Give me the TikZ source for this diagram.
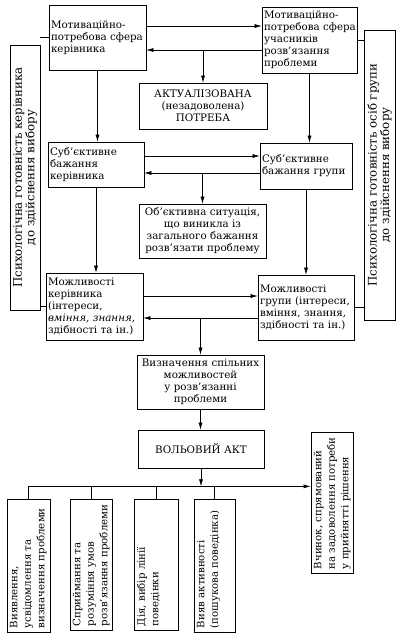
\documentclass[tikz,border=0pt]{standalone}
\usepackage{fontspec}
\setmainfont{DejaVu Serif}
\usetikzlibrary{arrows.meta}
\newcommand{\dfont}{\fontsize{10.3}{12}\selectfont}
\newcommand{\vfont}{\fontsize{10.2}{13.5}\selectfont}
\newcommand{\bfontx}{\fontsize{11.8}{12.5}\selectfont}
\begin{document}
\begin{tikzpicture}[x=1pt,y=-1pt,
  box/.style={draw, line width=0.7pt, inner xsep=2pt, inner ysep=2pt, font=\dfont},
  lbox/.style={box, align=left},
  cbox/.style={box, align=center},
  ebox/.style={draw, line width=0.7pt, inner sep=0pt},
  vtext/.style={font=\vfont, rotate=90, anchor=north west, align=left, inner sep=2pt},
  bartext/.style={font=\bfontx, rotate=90, align=center, inner sep=0pt},
  arr/.style={-{Latex[length=7pt,width=4pt]}, line width=0.6pt},
  ln/.style={line width=0.6pt}]
\useasboundingbox (0,0) rectangle (405,638);

% top pair
\node[lbox, text width=93pt, minimum height=65pt] (m1) at (97.5,37.5) {Мотиваційно-\\потребова~сфера\\керівника};
\node[lbox, text width=91pt, minimum height=66pt] (m2) at (309.5,40) {Мотиваційно-\\потребова~сфера\\учасників\\розв’язання\\проблеми};
\node[cbox, text width=124pt, minimum height=46pt] (act) at (203,106) {АКТУАЛІЗОВАНА\\(незадоволена)\\ПОТРЕБА};

% second pair
\node[lbox, text width=92pt, minimum height=45pt] (sb1) at (96,164.5) {Суб’єктивне\\бажання\\керівника};
\node[lbox, text width=88pt, minimum height=46pt] (sb2) at (306,166) {Суб’єктивне\\бажання~групи};
\node[cbox, text width=123pt, minimum height=54pt] (obj) at (202.5,231) {Об’єктивна~ситуація,\\що~виникла~із\\загального~бажання\\розв’язати~проблему};

% third pair
\node[lbox, text width=93pt, minimum height=67pt] (mz1) at (94.5,306.5) {Можливості\\керівника\\(інтереси,\\\textit{вміння,~знання,}\\здібності~та~ін.)};
\node[lbox, text width=92pt, minimum height=65pt] (mz2) at (306,307.5) {Можливості\\групи~(інтереси,\\вміння,~знання,\\здібності~та~ін.)};

\node[cbox, text width=123pt, minimum height=54pt] (vyz) at (200.5,382) {Визначення~спільних\\можливостей\\у~розв’язанні\\проблеми};
\node[cbox, text width=122pt, minimum height=38pt] (vol) at (201,449) {ВОЛЬОВИЙ~АКТ};

% side bars
\node[ebox, minimum width=30pt, minimum height=265pt] (lbar) at (25,177.5) {};
\node[bartext] (lbart) at (lbar.center) {Психологічна готовність керівника\\до здійснення вибору};
\node[ebox, minimum width=31pt, minimum height=290pt] (rbar) at (379.5,175) {};
\node[bartext] (rbart) at (rbar.center) {Психологічна готовність осіб групи\\до здійснення вибору};

% bottom boxes
\node[ebox, minimum width=43pt, minimum height=133pt] (c1) at (28.5,565.5) {};
\node[vtext] (c1t) at ([xshift=1pt,yshift=2pt]c1.south west) {Виявлення,\\усвідомлення та\\визначення проблеми};
\node[ebox, minimum width=42pt, minimum height=131pt] (c2) at (91,564.5) {};
\node[vtext] (c2t) at ([xshift=1pt,yshift=2pt]c2.south west) {Сприймання та\\розуміння умов\\розв’язання проблеми};
\node[ebox, minimum width=44pt, minimum height=131pt] (c3) at (156,564.5) {};
\node[vtext] (c3t) at ([xshift=1pt,yshift=2pt]c3.south west) {Дія, вибір лінії\\поведінки};
\node[ebox, minimum width=41pt, minimum height=133pt] (c4) at (214.5,565.5) {};
\node[vtext] (c4t) at ([xshift=1pt,yshift=2pt]c4.south west) {Вияв активності\\(пошукова поведінка)};
\node[ebox, minimum width=42pt, minimum height=141pt] (c5) at (332,502.5) {};
\node[vtext] (c5t) at ([xshift=1pt,yshift=2pt]c5.south west) {Вчинок, спрямований\\на задоволення потреби\\у прийнятті рішення};

% connectors: top pair
\path (m1.east) ++(0,-11.5) coordinate (a1);
\path (m1.east) ++(0,12.5) coordinate (b1);
\draw[arr] (a1) -- (a1 -| m2.west);
\draw[arr] (b1 -| m2.west) -- (b1);
\draw[arr] (b1 -| act.north) -- (act.north);
\draw[arr] (m1.south) -- (m1.south |- sb1.north);
\draw[arr] (m2.south) -- (m2.south |- sb2.north);

% second pair
\path (sb1.east) ++(0,-8.5) coordinate (a2);
\path (sb1.east) ++(0,8.5) coordinate (b2);
\draw[arr] (a2) -- (a2 -| sb2.west);
\draw[arr] (b2 -| sb2.west) -- (b2);
\draw[arr] (b2 -| obj.north) -- (obj.north);
\draw[arr] (sb1.south) -- (sb1.south |- mz1.north);
\draw[arr] (sb2.south) -- (sb2.south |- mz2.north);

% third pair
\path (mz1.east) ++(0,-10.5) coordinate (a3);
\path (mz1.east) ++(0,11.5) coordinate (b3);
\draw[arr] (a3) -- (a3 -| mz2.west);
\draw[arr] (b3 -| mz2.west) -- (b3);
\draw[arr] (b3 -| vyz.north) -- (vyz.north);

\draw[arr] (vyz.south) -- (vyz.south |- vol.north);

% bottom distribution
\path (vol.south) ++(0,18) coordinate (hv);
\draw[arr] (vol.south) -- (hv);
\draw[arr] (hv -| c1.north) -- (hv -| c5.west);
\draw[ln] (hv -| c1.north) -- (c1.north);
\draw[ln] (hv -| c2.north) -- (c2.north);
\draw[ln] (hv -| c3.north) -- (c3.north);
\draw[ln] (hv -| c4.north) -- (c4.north);

% side bar links
\draw[ln] (m1.west) -- (m1.west -| lbar.east);
\draw[ln] (mz1.west) -- (mz1.west -| lbar.east);
\draw[ln] (m2.east) -- (m2.east -| rbar.west);
\draw[ln] (mz2.east) -- (mz2.east -| rbar.west);
\end{tikzpicture}
\end{document}
